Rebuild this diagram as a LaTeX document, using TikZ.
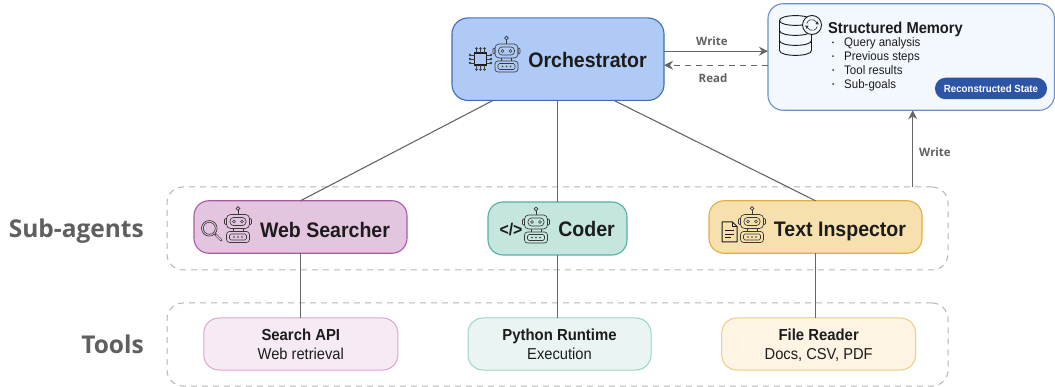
\documentclass[tikz,border=0pt]{standalone}
\usepackage{fontspec}
\setmainfont[FakeStretch=0.93]{Liberation Sans}
\newfontfamily\labelfont{Open Sans}
\usetikzlibrary{arrows.meta,calc}
\definecolor{ink}{HTML}{1C1C1C}
\definecolor{icon}{HTML}{3A3A3A}
\definecolor{wire}{HTML}{666666}
\definecolor{grp}{HTML}{B4B4B4}
\definecolor{sidelabel}{HTML}{5F5F5F}
\definecolor{memfill}{HTML}{F3F7FE}
\definecolor{membd}{HTML}{6A8FC9}
\definecolor{orchfill}{HTML}{AFCBF5}
\definecolor{orchbd}{HTML}{3F6DB8}
\definecolor{webfill}{HTML}{E4C5E0}
\definecolor{webbd}{HTML}{A95AA0}
\definecolor{codfill}{HTML}{C5E5DF}
\definecolor{codbd}{HTML}{55AFA0}
\definecolor{txtfill}{HTML}{F6E1AE}
\definecolor{txtbd}{HTML}{E2AE3E}
\definecolor{weblight}{HTML}{F6EAF4}
\definecolor{webtool}{HTML}{D8A8D0}
\definecolor{codlight}{HTML}{EAF5F3}
\definecolor{codtool}{HTML}{9AD3C8}
\definecolor{txtlight}{HTML}{FDF4E3}
\definecolor{txttool}{HTML}{F0CC80}
\definecolor{pillblue}{HTML}{2E55A5}
\tikzset{
  x=1pt,y=-1pt,
  box/.style={rectangle,draw,rounded corners=15pt,line width=1.1pt,inner sep=0pt,outer sep=0pt},
  group/.style={rectangle,draw=grp,dashed,dash pattern=on 6pt off 5pt,rounded corners=16pt,line width=1pt,inner sep=0pt,outer sep=0pt,minimum width=781pt,minimum height=83pt},
  title/.style={font=\bfseries\fontsize{21}{24}\selectfont,text=ink,inner sep=0pt,anchor=mid},
  toolhead/.style={font=\bfseries\fontsize{16}{18}\selectfont,text=ink,inner sep=0pt,anchor=mid},
  toolsub/.style={font=\fontsize{15.8}{18}\selectfont,text=ink,inner sep=0pt,anchor=mid},
  side/.style={font=\labelfont\bfseries\fontsize{24.5}{28}\selectfont,text=sidelabel,anchor=mid east,inner sep=0pt},
  edge label/.style={font=\labelfont\bfseries\fontsize{11.5}{14}\selectfont,text=sidelabel,inner sep=0pt,anchor=mid},
  bullet/.style={font=\fontsize{12.4}{14}\selectfont,text=ink,anchor=mid west,inner sep=0pt},
  wireline/.style={draw=wire,line width=1.1pt},
  arrowline/.style={draw=wire,line width=1.2pt,-{Stealth[length=9pt,width=9pt]}},
  thinicon/.style={draw=icon,line width=0.65pt},
  robot/.pic={
    \draw[thinicon] (0,-13) circle[radius=1.8pt];
    \draw[thinicon] (0,-11)--(0,-7);
    \draw[thinicon,rounded corners=4pt] (-11.5,-7) rectangle (11.5,7);
    \draw[thinicon,rounded corners=1pt] (-13.5,-3) rectangle (-11.5,3);
    \draw[thinicon,rounded corners=1pt] (11.5,-3) rectangle (13.5,3);
    \draw[thinicon,rounded corners=3.5pt] (-8,-4) rectangle (8,4);
    \draw[thinicon] (-4,0) circle[radius=1.5pt] (4,0) circle[radius=1.5pt];
    \draw[thinicon] (-5,7)--(-5,10) (5,7)--(5,10);
    \draw[thinicon,rounded corners=3pt] (-11.5,10) rectangle (11.5,21);
    \draw[thinicon,rounded corners=1.5pt] (-8.5,12.5) rectangle (8.5,18.5);
    \fill[icon] (-4,15.5) circle[radius=0.9pt] (0,15.5) circle[radius=0.9pt] (4,15.5) circle[radius=0.9pt];
  },
  chip/.pic={
    \draw[draw=ink,line width=1.4pt] (-6,-6) rectangle (6,6);
    \foreach \p in {-4,0,4}{
      \draw[thinicon] (\p,-6)--(\p,-9.5) (\p,6)--(\p,9.5) (-6,\p)--(-9.5,\p) (6,\p)--(9.5,\p);
      \draw[thinicon] (\p,-10.5) circle[radius=0.9pt] (\p,10.5) circle[radius=0.9pt] (-10.5,\p) circle[radius=0.9pt] (10.5,\p) circle[radius=0.9pt];
    }
  },
  lens/.pic={
    \draw[thinicon] (0,0) circle[radius=7.8pt];
    \draw[thinicon] (0,0) circle[radius=6pt];
    \draw[thinicon,line width=2.4pt,line cap=round] (6.2,6.2)--(12,12);
    \draw[draw=webfill,line width=1.1pt,line cap=round] (6.8,6.8)--(11.6,11.6);
  },
  paper/.pic={
    \draw[draw=ink,line width=1pt,line join=round] (-7.5,-10)--(3,-10)--(7.5,-5.5)--(7.5,10)--(-7.5,10)--cycle;
    \draw[draw=ink,line width=0.8pt] (3,-10)--(3,-5.5)--(7.5,-5.5);
    \draw[draw=ink,line width=0.9pt] (-4.5,-1.5)--(4.5,-1.5) (-4.5,2)--(4.5,2) (-4.5,5.5)--(1,5.5);
  },
  dbstack/.pic={
    \draw[draw=ink,line width=0.9pt]
      (-16,-15) .. controls (-16,-21.5) and (16,-21.5) .. (16,-15)
      -- (16,15) .. controls (16,21.5) and (-16,21.5) .. (-16,15) -- cycle;
    \draw[draw=ink,line width=0.9pt]
      (-16,-15) .. controls (-16,-8.5) and (16,-8.5) .. (16,-15)
      (-16,-5) .. controls (-16,1.5) and (16,1.5) .. (16,-5)
      (-16,5) .. controls (-16,11.5) and (16,11.5) .. (16,5);
  },
  refresh/.pic={
    \draw[draw=ink,line width=0.9pt,fill=memfill] (0,0) circle[radius=9.5pt];
    \draw[thinicon] (0,0) ++(20:5.5pt) arc[start angle=20,end angle=165,radius=5.5pt];
    \draw[thinicon] (0,0) ++(200:5.5pt) arc[start angle=200,end angle=345,radius=5.5pt];
    \fill[icon] (5.2,-4) -- (7,-0.5) -- (3.4,-0.8) -- cycle;
    \fill[icon] (-5.2,4) -- (-7,0.5) -- (-3.4,0.8) -- cycle;
  }
}
\begin{document}
\begin{tikzpicture}
\useasboundingbox (0,0) rectangle (1055,387);

% dashed groups
\node[group] (sub) at (557.5,228.5) {};
\node[group] (toolsgrp) at (557.5,344.5) {};
\node[side] (sublabel) at (144,235) {Sub-agents};
\node[side] (toollabel) at (144,351) {Tools};

% main boxes
\node[box,draw=orchbd,fill=orchfill,minimum width=212pt,minimum height=82.5pt,rounded corners=16pt] (orch) at (558,59.2) {};
\node[box,draw=membd,fill=memfill,minimum width=286.5pt,minimum height=106.5pt] (mem) at (911.2,57) {};
\node[box,draw=webbd,fill=webfill,minimum width=213pt,minimum height=52.5pt] (web) at (300.5,227) {};
\node[box,draw=codbd,fill=codfill,minimum width=139pt,minimum height=53pt] (coder) at (557.5,228.5) {};
\node[box,draw=txtbd,fill=txtfill,minimum width=213pt,minimum height=52.5pt] (text) at (815.5,227) {};

% tool boxes
\node[box,draw=webtool,fill=weblight,line width=1pt,minimum width=194pt,minimum height=52pt] (search) at (300.8,344) {};
\node[box,draw=codtool,fill=codlight,line width=1pt,minimum width=183pt,minimum height=52pt] (python) at (559.5,344) {};
\node[box,draw=txttool,fill=txtlight,line width=1pt,minimum width=194pt,minimum height=52pt] (reader) at (818.7,344) {};

% connectors
\draw[wireline] ([xshift=-65pt]orch.south) -- (web.north);
\draw[wireline] (coder.north) -- (coder.north |- orch.south);
\draw[wireline] ([xshift=56pt]orch.south) -- (text.north);
\draw[wireline] (web.south) -- (web.south |- search.north);
\draw[wireline] (coder.south) -- (coder.south |- python.north);
\draw[wireline] (text.south) -- (text.south |- reader.north);
\coordinate (writeout) at ([yshift=8pt]orch.east);
\coordinate (readin) at ([yshift=-6pt]orch.east);
\coordinate (upwrite) at ([xshift=1.5pt]mem.south);
\draw[arrowline] (writeout) -- (writeout -| mem.west);
\draw[arrowline,dashed,dash pattern=on 6pt off 5pt] (readin -| mem.west) -- (readin);
\draw[arrowline] (upwrite |- sub.north) -- (upwrite);

\node[edge label] (wlabel) at (712,43) {Write};
\node[edge label] (rlabel) at (713,79.5) {Read};
\node[edge label] (uplabel) at (935,153.5) {Write};

% titles
\node[title] (orchtitle) at (587.5,64.5) {Orchestrator};
\node[title] (webtitle) at (325,234.5) {Web Searcher};
\node[title] (codertitle) at (586.5,233.5) {Coder};
\node[title] (texttitle) at (840,234) {Text Inspector};

% icons
\pic at (506.5,51) {robot};
\pic at (238,221.5) {robot};
\pic at (536,222) {robot};
\pic at (752,221.5) {robot};
\pic at (480.5,59) {chip};
\pic at (209.3,228.3) {lens};
\pic at (729.5,232) {paper};
\node[font=\bfseries\fontsize{17}{18}\selectfont,text=ink,inner sep=0pt,anchor=mid] (codeicon) at (511,233) {</>};

% memory
\pic at (795.5,35.5) {dbstack};
\pic at (812,25) {refresh};
\node[font=\bfseries\fontsize{15.8}{18}\selectfont,text=ink,inner sep=0pt,anchor=mid] (memtitle) at (895.5,31) {Structured Memory};
\node[bullet] (b1) at (844,44) {Query analysis};
\node[bullet] (b2) at (844,58) {Previous steps};
\node[bullet] (b3) at (844,72) {Tool results};
\node[bullet] (b4) at (844,86) {Sub-goals};
\foreach \yy in {42.3,56.2,70,84}{\fill[icon] (833,\yy) circle[radius=1pt];}
\node[fill=pillblue,rounded corners=10.5pt,minimum width=112pt,minimum height=21.5pt,inner sep=0pt,text=white,font=\bfseries\fontsize{10.4}{12}\selectfont] (pill) at (991,88.5) {Reconstructed State};

% tool texts
\node[toolhead] (s1) at (300.8,337.5) {Search API};
\node[toolsub] (s2) at (300.8,356.5) {Web retrieval};
\node[toolhead] (p1) at (559.5,337.5) {Python Runtime};
\node[toolsub] (p2) at (559.5,356.5) {Execution};
\node[toolhead] (f1) at (818.7,337.5) {File Reader};
\node[toolsub] (f2) at (818.7,356.5) {Docs, CSV, PDF};
\end{tikzpicture}
\end{document}
